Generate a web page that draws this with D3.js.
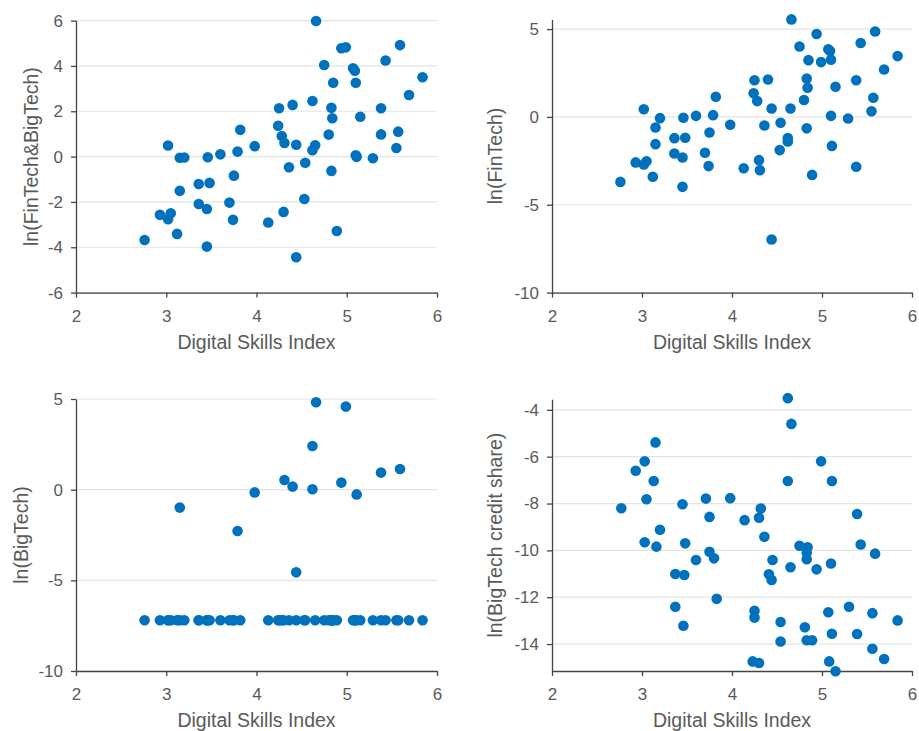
<!DOCTYPE html>
<html>
<head>
<meta charset="utf-8">
<script src="https://cdn.jsdelivr.net/npm/d3@7"></script>
<style>
  html, body { margin: 0; padding: 0; background: #fff; }
  svg { display: block; font-family: "Liberation Sans", Arial, Helvetica, sans-serif; }
</style>
</head>
<body>
<svg id="chart" width="919" height="731"></svg>
<script>
// ---- Data ----
// Digital Skills Index for each country (panels 1-3)
const dsi = [2.76, 2.93, 3.02, 3.05, 3.02, 3.12, 3.15, 3.15, 3.20, 3.36,
             3.36, 3.45, 3.45, 3.46, 3.48, 3.60, 3.70, 3.75, 3.74, 3.79,
             3.82, 3.98, 4.13, 4.24, 4.25, 4.28, 4.30, 4.31, 4.36, 4.40,
             4.44, 4.44, 4.54, 4.53, 4.62, 4.62, 4.65, 4.66, 4.75, 4.80,
             4.83, 4.83, 4.84, 4.85, 4.89, 4.94, 4.99, 5.07, 5.09, 5.10,
             5.10, 5.11, 5.15, 5.29, 5.38, 5.38, 5.43, 5.55, 5.57, 5.59,
             5.69, 5.84];
// ln(FinTech & BigTech)
const lnFinBig = [-3.68, -2.57, -2.76, -2.50, 0.49, -3.41, -1.51, -0.05, -0.04, -1.21,
                  -2.09, -2.31, -3.97, -0.03, -1.16, 0.10, -2.03, -0.84, -2.79, 0.22,
                  1.18, 0.46, -2.91, 1.36, 2.13, 0.91, -2.44, 0.60, -0.47, 2.28,
                  0.52, -4.44, -0.27, -1.87, 2.45, 0.28, 0.50, 5.98, 4.04, 0.97,
                  -0.63, 2.15, 1.69, 3.26, -3.28, 4.78, 4.82, 3.90, 3.79, 3.26,
                  0.06, -0.01, 1.76, -0.07, 2.13, 0.98, 4.24, 0.38, 1.10, 4.92,
                  2.72, 3.50];
// ln(FinTech)
const lnFinTech = [-3.70, -2.59, -2.71, -2.52, 0.44, -3.41, -1.55, -0.60, -0.07, -1.21,
                   -2.08, -2.31, -3.98, -0.05, -1.19, 0.06, -2.04, -0.89, -2.80, 0.10,
                   1.15, -0.45, -2.92, 1.34, 2.09, 0.90, -2.46, -3.03, -0.49, 2.13,
                   0.48, -6.98, -0.33, -1.89, -1.20, -1.40, 0.48, 5.55, 4.01, 0.96,
                   -0.65, 2.19, 1.66, 3.23, -3.30, 4.72, 3.12, 3.85, 3.75, 3.26,
                   0.06, -1.65, 1.72, -0.09, 2.09, -2.84, 4.21, 0.32, 1.09, 4.86,
                   2.70, 3.46];
// ln(BigTech)
const lnBigTech = [-7.2, -7.2, -7.2, -7.2, -7.2, -7.2, -7.2, -0.99, -7.2, -7.2,
                   -7.2, -7.2, -7.2, -7.2, -7.2, -7.2, -7.2, -7.2, -7.2, -2.28,
                   -7.2, -0.15, -7.2, -7.2, -7.2, -7.2, -7.2, 0.53, -7.2, 0.17,
                   -7.2, -4.56, -7.2, -7.2, 2.41, 0.02, -7.2, 4.82, -7.2, -7.2,
                   -7.2, -7.2, -7.2, -7.2, -7.2, 0.39, 4.58, -7.2, -7.2, -7.2,
                   -7.2, -0.26, -7.2, -7.2, -7.2, 0.94, -7.2, -7.2, -7.2, 1.14,
                   -7.2, -7.2];
// BigTech credit share panel
const shareDsi = [2.77, 2.93, 3.03, 3.13, 3.05, 3.15, 3.20, 3.03, 3.16, 3.45,
                  3.48, 3.37, 3.47, 3.37, 3.46, 3.60, 3.71, 3.75, 3.75, 3.80,
                  3.83, 3.98, 4.14, 4.32, 4.30, 4.36, 4.45, 4.41, 4.44, 4.25,
                  4.25, 4.23, 4.30, 4.62, 4.66, 4.62, 4.65, 4.54, 4.54, 4.99,
                  5.11, 4.75, 4.84, 4.83, 4.83, 4.94, 5.10, 4.81, 4.83, 4.89,
                  5.07, 5.11, 5.08, 5.15, 5.30, 5.39, 5.43, 5.59, 5.39, 5.56,
                  5.56, 5.69, 5.84];
const lnShare = [-8.20, -6.60, -6.20, -7.04, -7.82, -5.39, -9.12, -9.65, -9.84, -8.03,
                 -9.70, -11.01, -11.05, -12.41, -13.22, -10.41, -7.79, -8.57, -10.06, -10.34,
                 -12.07, -7.77, -8.71, -8.21, -8.61, -9.42, -10.41, -11.02, -11.26, -12.58,
                 -12.87, -14.74, -14.81, -3.50, -4.60, -7.04, -10.72, -13.06, -13.89, -6.20,
                 -7.04, -9.80, -9.87, -10.10, -10.38, -10.81, -10.56, -13.28, -13.84, -13.84,
                 -12.64, -13.56, -14.74, -15.16, -12.41, -8.45, -9.75, -10.14, -13.57, -12.68,
                 -14.20, -14.64, -12.99];

const xTicks = [2, 3, 4, 5, 6];
const xLabel = "Digital Skills Index";
const yLabels = ["ln(FinTech&BigTech)", "ln(FinTech)", "ln(BigTech)", "ln(BigTech credit share)"];
const yTicks1 = [-6, -4, -2, 0, 2, 4, 6];
const yTicks2 = [-10, -5, 0, 5];
const yTicks3 = [-10, -5, 0, 5];
const yTicks4 = [-14, -12, -10, -8, -6, -4];

// ---- Layout ----
const svg = d3.select("#chart");
const TEXT = "#5a5a5a", AXIS = "#444444", GRID = "#e4e4e4", DOT = "#0072BD";
const fmt = d => String(d);

const panels = [
  {x: dsi, y: lnFinBig, left: 76, right: 437, top: 20.6, bottom: 292.6, yDomain: [-6, 6],
   yTicks: yTicks1, yLabel: yLabels[0], yLabelX: 37.5},
  {x: dsi, y: lnFinTech, left: 552, right: 912, top: 19.4, bottom: 292.6, yDomain: [-10, 5.55],
   yTicks: yTicks2, yLabel: yLabels[1], yLabelX: 502},
  {x: dsi, y: lnBigTech, left: 76, right: 437, top: 399, bottom: 671, yDomain: [-10, 5],
   yTicks: yTicks3, yLabel: yLabels[2], yLabelX: 28},
  {x: shareDsi, y: lnShare, left: 552, right: 912, top: 399.3, bottom: 671, yDomain: [-15.15, -3.55],
   yTicks: yTicks4, yLabel: yLabels[3], yLabelX: 502}
];

panels.forEach(p => {
  const xs = d3.scaleLinear().domain([2, 6]).range([p.left, p.right]);
  const ys = d3.scaleLinear().domain(p.yDomain).range([p.bottom, p.top]);
  const g = svg.append("g");

  // grid lines
  g.append("g").selectAll("line").data(p.yTicks).join("line")
    .attr("x1", p.left).attr("x2", p.right)
    .attr("y1", d => ys(d)).attr("y2", d => ys(d))
    .attr("stroke", GRID).attr("stroke-width", 1.2);

  // y axis
  const ya = g.append("g").attr("transform", `translate(${p.left},0)`)
    .call(d3.axisLeft(ys).tickValues(p.yTicks).tickFormat(fmt).tickSize(5).tickSizeOuter(0).tickPadding(8));
  // x axis
  const xa = g.append("g").attr("transform", `translate(0,${p.bottom})`)
    .call(d3.axisBottom(xs).tickValues(xTicks).tickFormat(fmt).tickSize(5).tickSizeOuter(0).tickPadding(12.4));

  [ya, xa].forEach(a => {
    a.select(".domain").attr("stroke", AXIS).attr("stroke-width", 1.3);
    a.selectAll(".tick line").attr("stroke", AXIS).attr("stroke-width", 1.3);
    a.selectAll(".tick text").attr("fill", TEXT).style("font-size", "17px")
      .style("font-family", "'Liberation Sans', Arial, sans-serif");
  });

  // y label
  g.append("text")
    .attr("transform", `translate(${p.yLabelX},${(p.top + p.bottom) / 2}) rotate(-90)`)
    .attr("text-anchor", "middle")
    .attr("fill", TEXT).style("font-size", "19.5px")
    .text(p.yLabel);

  // x label
  g.append("text")
    .attr("x", (p.left + p.right) / 2).attr("y", p.bottom + 56)
    .attr("text-anchor", "middle")
    .attr("fill", TEXT).style("font-size", "19.5px")
    .text(xLabel);

  // points
  g.append("g").selectAll("circle").data(p.x.map((v, i) => [v, p.y[i]])).join("circle")
    .attr("cx", d => xs(d[0])).attr("cy", d => ys(d[1]))
    .attr("r", 5.3).attr("fill", DOT);
});
</script>
</body>
</html>
